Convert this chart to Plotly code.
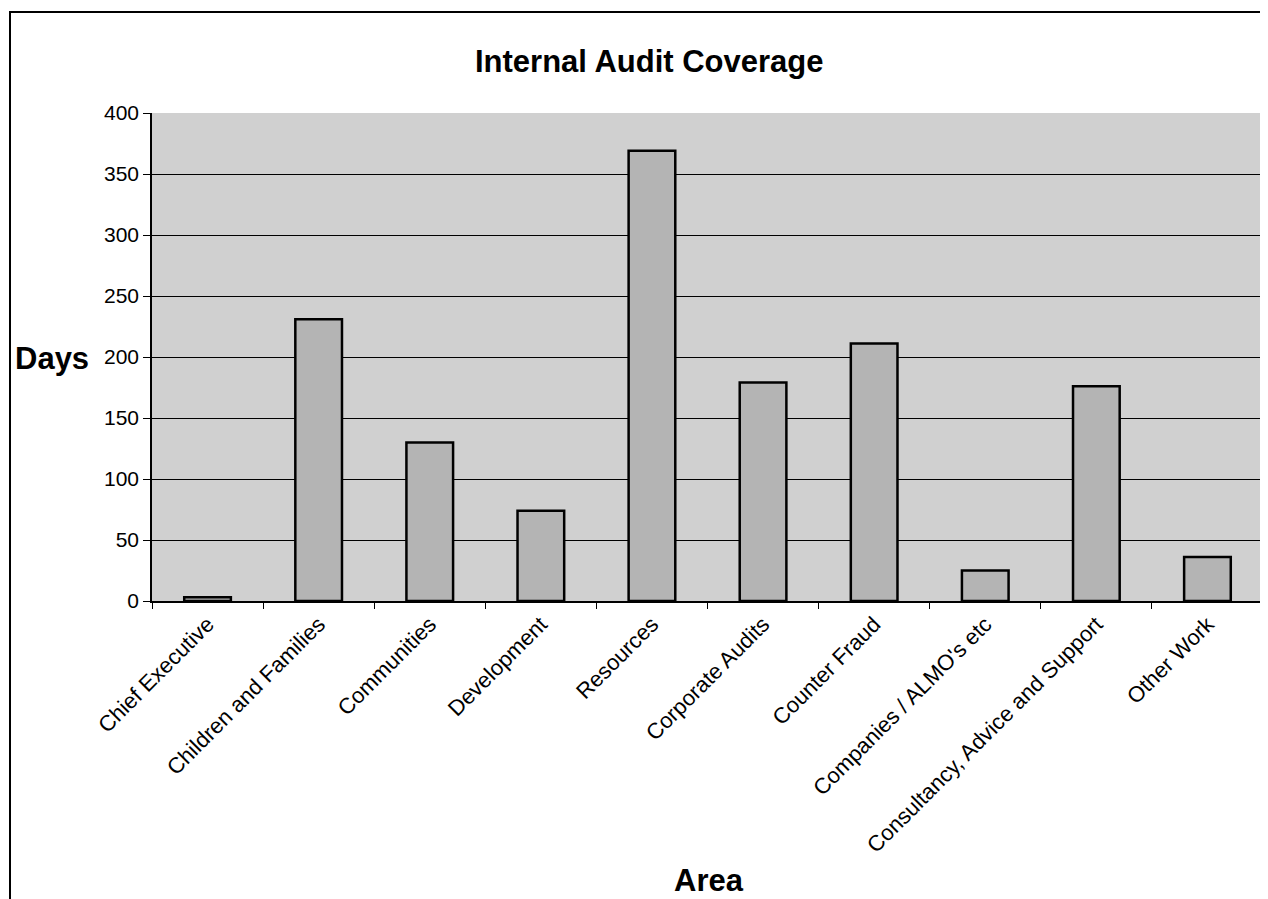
import plotly.graph_objects as go

categories = ["Chief Executive", "Children and Families", "Communities", "Development",
              "Resources", "Corporate Audits", "Counter Fraud", "Companies / ALMO's etc",
              "Consultancy, Advice and Support", "Other Work"]
days = [3, 231, 130, 74, 369, 179, 211, 25, 176, 36]
y_ticks = [0, 50, 100, 150, 200, 250, 300, 350, 400]

FONT = "Liberation Sans, Arial, sans-serif"

fig = go.Figure(go.Bar(
    x=categories, y=days,
    marker=dict(color="#b4b4b4", line=dict(color="black", width=2.5)),
    width=0.42,
))

# page offset (body margin) of 8px
OFF = 8
W, H = 1260, 891
# plot area in page pixels: left 152, right 1263, top 113, bottom 601
PL, PR, PT, PB = 152, 1263, 113, 601
L, T = PL - OFF, PT - OFF
R = W - (PR - OFF)
B = H - (PB - OFF)
pw, ph = PR - PL, PB - PT

def px_x(x):
    return (x - PL) / pw

def px_y(y):
    return (PB - y) / ph

def label(text, x, y, size=31):
    return dict(text=text, xref="paper", yref="paper", x=px_x(x), y=px_y(y),
                xanchor="center", yanchor="middle", showarrow=False,
                font=dict(size=size, family=FONT, color="black"))

fig.update_layout(
    width=W, height=H,
    margin=dict(l=L, r=R, t=T, b=B),
    paper_bgcolor="white",
    plot_bgcolor="#d0d0d0",
    showlegend=False,
    font=dict(family=FONT, color="black", size=21),
    xaxis=dict(
        type="category", tickangle=-45, tickson="boundaries",
        ticks="outside", ticklen=6, tickcolor="black",
        showline=True, linecolor="black", linewidth=1.5,
        showgrid=False, tickfont=dict(size=22, family=FONT),
    ),
    yaxis=dict(
        range=[0, 400], tickvals=y_ticks, ticks="outside", ticklen=7,
        tickcolor="black", showline=True, linecolor="black", linewidth=1.5,
        showgrid=True, gridcolor="black", gridwidth=1, zeroline=False,
        tickfont=dict(size=21, family=FONT),
    ),
    shapes=[dict(type="rect", xref="paper", yref="paper",
                 x0=px_x(10), y0=-0.7, x1=1.05, y1=px_y(12),
                 line=dict(color="black", width=2), fillcolor="rgba(0,0,0,0)",
                 layer="below")],
    annotations=[
        label("<b>Internal Audit Coverage</b>", 649, 62),
        label("<b>Days</b>", 52, 358),
        label("<b>Area</b>", 709, 880),
    ],
)

fig.write_html("out.html")
